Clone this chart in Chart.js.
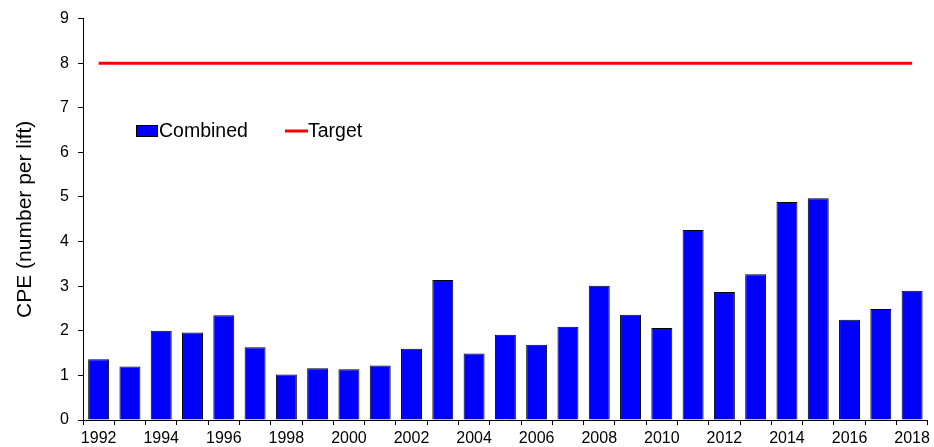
<!DOCTYPE html>
<html>
<head>
<meta charset="utf-8">
<script src="https://cdn.jsdelivr.net/npm/chart.js@4"></script>
<style>
    html, body { margin: 0; padding: 0; background: #fff; }
</style>
</head>
<body>
<canvas id="chart1" width="934" height="447"></canvas>
<script>
const years = ['1992', '1993', '1994', '1995', '1996', '1997', '1998', '1999', '2000', '2001',
    '2002', '2003', '2004', '2005', '2006', '2007', '2008', '2009', '2010', '2011',
    '2012', '2013', '2014', '2015', '2016', '2017', '2018'];
const combined = [1.36, 1.20, 2.00, 1.96, 2.35, 1.63, 1.02, 1.16, 1.14, 1.22,
    1.60, 3.14, 1.49, 1.91, 1.69, 2.09, 3.01, 2.36, 2.06, 4.26,
    2.87, 3.27, 4.89, 4.97, 2.25, 2.49, 2.90];
const target = years.map(() => 8);
const yTicks = [0, 1, 2, 3, 4, 5, 6, 7, 8, 9];

const FONT = 'Arial, "Liberation Sans", sans-serif';

// legend sits inside the plot, so draw it by hand
const insideLegend = {
    id: 'insideLegend',
    afterDraw(chart) {
        const ctx = chart.ctx;
        const ds = chart.data.datasets;
        ctx.save();
        ctx.font = '19.5px ' + FONT;
        ctx.textBaseline = 'middle';
        ctx.fillStyle = ds[0].backgroundColor;
        ctx.fillRect(136.5, 125.5, 21, 11);
        ctx.strokeStyle = '#000';
        ctx.lineWidth = 1;
        ctx.strokeRect(136.5, 125.5, 21, 11);
        ctx.fillStyle = '#000';
        ctx.fillText(ds[0].label, 159, 132);

        ctx.strokeStyle = ds[1].borderColor;
        ctx.lineWidth = 3;
        ctx.beginPath();
        ctx.moveTo(285, 131);
        ctx.lineTo(308, 131);
        ctx.stroke();
        ctx.fillStyle = '#000';
        ctx.fillText(ds[1].label, 308, 132);
        ctx.restore();
    }
};

const ctx = document.getElementById('chart1').getContext('2d');
new Chart(ctx, {
    type: 'bar',
    data: {
        labels: years,
        datasets: [
            {
                label: 'Combined',
                data: combined,
                backgroundColor: '#0000ff',
                borderColor: '#000',
                borderWidth: 1,
                barPercentage: 0.67,
                categoryPercentage: 1,
                order: 2
            },
            {
                type: 'line',
                label: 'Target',
                data: target,
                borderColor: '#ff0000',
                borderWidth: 3,
                pointRadius: 0,
                fill: false,
                order: 1
            }
        ]
    },
    options: {
        responsive: false,
        animation: false,
        layout: { padding: { top: 16, right: 5, left: 0, bottom: 0 } },
        plugins: {
            legend: { display: false },
            tooltip: { enabled: false }
        },
        scales: {
            x: {
                offset: true,
                grid: {
                    offset: true,
                    drawOnChartArea: false,
                    drawTicks: true,
                    tickLength: 5,
                    color: '#000'
                },
                border: { color: '#000', width: 1 },
                ticks: {
                    autoSkip: false,
                    maxRotation: 0,
                    color: '#000',
                    padding: 4,
                    font: { family: FONT, size: 16 },
                    callback: function (val, i) {
                        return i % 2 === 0 ? this.getLabelForValue(val) : '';
                    }
                },
                afterFit: scale => { scale.height = 27; }
            },
            y: {
                min: 0,
                max: 9,
                afterBuildTicks: scale => { scale.ticks = yTicks.map(v => ({ value: v })); },
                grid: {
                    drawOnChartArea: false,
                    drawTicks: true,
                    tickLength: 5,
                    color: '#000'
                },
                border: { color: '#000', width: 1 },
                ticks: {
                    color: '#000',
                    padding: 9,
                    font: { family: FONT, size: 16 }
                },
                title: {
                    display: true,
                    text: 'CPE (number per lift)',
                    color: '#000',
                    font: { family: FONT, size: 21 },
                    padding: { top: 13, bottom: 0 }
                },
                afterFit: scale => { scale.width = 83; }
            }
        }
    },
    plugins: [insideLegend]
});
</script>
</body>
</html>
